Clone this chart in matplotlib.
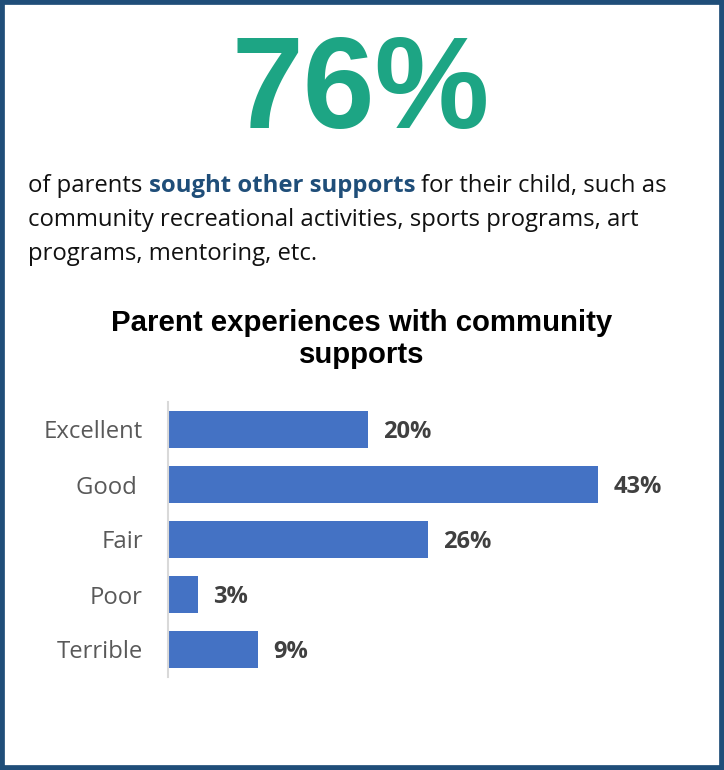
import matplotlib.pyplot as plt
from matplotlib.patches import Rectangle

headline = "76%"
intro_plain = "of parents"
intro_bold = "sought other supports"
intro_rest = "for their child, such as"
intro_lines = ["community recreational activities, sports programs, art",
               "programs, mentoring, etc."]
chart_title = "Parent experiences with community\nsupports"

categories = ["Excellent", "Good ", "Fair", "Poor", "Terrible"]
values = [20, 43, 26, 3, 9]

NAVY = "#1F4E79"
TEAL = "#1DA584"
BAR = "#4472C4"


def main():
    W, H = 724, 770
    fig = plt.figure(figsize=(W / 100, H / 100), dpi=100)

    # frame
    fig.patches.append(Rectangle((0, 0), 1, 1, transform=fig.transFigure,
                                 fill=False, edgecolor=NAVY, linewidth=7))

    fig.text(361 / W, 1 - 128 / H, headline, ha="center", va="baseline",
             fontsize=93, fontweight="bold", color=TEAL,
             family="Liberation Sans")

    # intro paragraph with the highlighted phrase
    body = dict(fontsize=17.2, family="Open Sans", va="baseline")
    renderer = fig.canvas.get_renderer()
    x = 28
    y1 = 1 - 192 / H
    sp = fig.text(0, 0, "a a", **body)
    sp2 = fig.text(0, 0, "aa", **body)
    space = (sp.get_window_extent(renderer).width
             - sp2.get_window_extent(renderer).width)
    sp.remove()
    sp2.remove()
    for part, style in [(intro_plain, dict(color="#111111")),
                        (intro_bold, dict(color=NAVY, fontweight="bold")),
                        (intro_rest, dict(color="#111111"))]:
        t = fig.text(x / W, y1, part, **body, **style)
        x += t.get_window_extent(renderer).width + space
    for i, line in enumerate(intro_lines):
        fig.text(28 / W, 1 - (192 + 34 * (i + 1)) / H, line, color="#111111",
                 **body)

    # baseline of the last title line
    fig.text(362 / W, 1 - 363 / H, chart_title, ha="center", va="baseline",
             fontsize=21.2, fontweight="bold", family="Liberation Sans",
             linespacing=1.18, color="black")

    # bar chart
    ax = fig.add_axes([168 / W, 1 - 677 / H, 500 / W, 275 / H])
    pos = list(range(len(categories)))
    ax.barh(pos, values, height=0.66, color=BAR)
    ax.set_xlim(0, 50)
    ax.set_ylim(len(categories) - 0.5, -0.5)
    ax.set_yticks(pos)
    ax.set_yticklabels(categories, family="Open Sans", fontsize=17.2,
                       color="#595959")
    ax.tick_params(axis="y", length=0, pad=18)
    ax.set_xticks([])
    for s in ["top", "right", "bottom"]:
        ax.spines[s].set_visible(False)
    ax.spines["left"].set_color("#D9D9D9")
    ax.spines["left"].set_linewidth(1.5)
    for p, v in zip(pos, values):
        ax.annotate(f"{v}%", (v, p), xytext=(11, -1.5),
                    textcoords="offset points", va="center", ha="left",
                    fontsize=17, fontweight="bold", family="Open Sans",
                    color="#404040")

    fig.savefig("out.png", dpi=100)


if __name__ == '__main__':
    main()
